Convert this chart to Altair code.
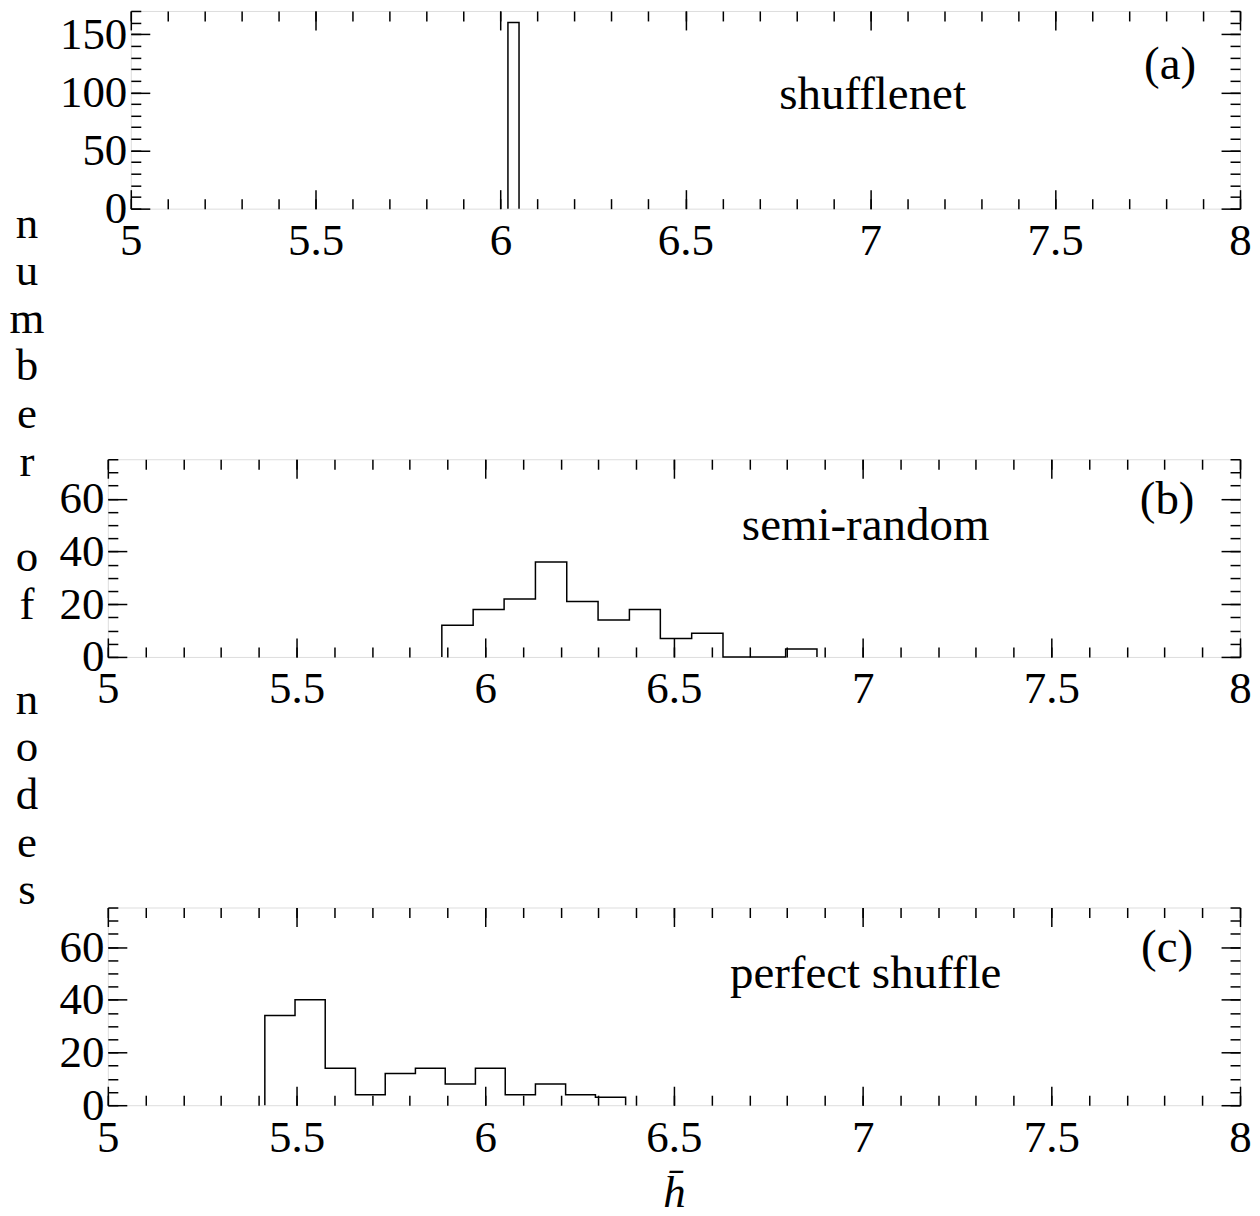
import altair as alt
import pandas as pd

# ---------------- data ----------------
# (a) shufflenet: a single bin
a_edges = [6.02, 6.05]
a_counts = [160]

# (b) semi-random
b_edges = [5.885, 5.968, 6.050, 6.133, 6.216, 6.299, 6.382, 6.464,
           6.547, 6.630, 6.713, 6.796, 6.879]
b_counts = [12, 18, 22, 36, 21, 14, 18, 7, 9, 0, 0, 3]

# (c) perfect shuffle
c_edges = [5.416, 5.496, 5.576, 5.656, 5.735, 5.815, 5.894, 5.974,
           6.053, 6.133, 6.213, 6.292, 6.372]
c_counts = [34, 40, 14, 4, 12, 14, 8, 14, 4, 8, 4, 3]

panel_names = ["shufflenet", "semi-random", "perfect shuffle"]
panel_tags = ["(a)", "(b)", "(c)"]

x_major = [5, 5.5, 6, 6.5, 7, 7.5, 8]
x_minor = [round(5 + 0.1 * i, 1) for i in range(31)]
a_y_major = [0, 50, 100, 150]
a_y_minor = list(range(0, 171, 10))
bc_y_major = [0, 20, 40, 60]
bc_y_minor = list(range(0, 76, 5))

# y title written one letter per line: "number of nodes"
y_title_words = ["number", "of", "nodes"]
x_title = "h\u0304"

FONT = "Liberation Serif"
FS = 45
LINE = 47.7


def label_axis(values, orient, pad, fmt, title=None, title_pad=0):
    kw = dict(orient=orient, values=values, format=fmt, ticks=False,
              domain=False, grid=False, labelFont=FONT, labelFontSize=FS,
              labelColor="black", labelPadding=pad, labelFlush=False,
              labelOverlap=False, title=title)
    if title is not None:
        kw.update(titleFont=FONT, titleFontSize=FS, titleFontStyle="italic",
                  titleFontWeight="normal", titleColor="black",
                  titlePadding=title_pad)
    return alt.Axis(**kw)


def tick_axis(values, orient, offset, size):
    return alt.Axis(orient=orient, offset=offset, values=values, ticks=True,
                    tickSize=size, tickWidth=1.5, tickColor="black",
                    labels=False, domain=False, grid=False, title=None)


def panel(edges, counts, w, h, ymax, ymaj, ymin, name, tag,
          name_xy, tag_xy, xtitle=None, extra=None):
    xs = [edges[0]] + edges[:-1] + [edges[-1]]
    ys = [0] + counts + [0]
    df = pd.DataFrame({"h": xs, "n": ys, "i": list(range(len(xs)))})
    xsc = alt.Scale(domain=[5, 8], nice=False, zero=False)
    ysc = alt.Scale(domain=[0, ymax], nice=False, zero=True)
    base = alt.Chart(df)

    hist = base.mark_line(interpolate="step-after", color="black",
                          strokeWidth=1.5).encode(
        x=alt.X("h:Q", scale=xsc,
                axis=label_axis(x_major, "bottom", 10, "~g", xtitle, 10)),
        y=alt.Y("n:Q", scale=ysc, axis=label_axis(ymaj, "left", 4, "d")),
        order=alt.Order("i:Q"),
    )
    layers = [hist]
    for xv, yv, size, xo, yo in [
        (x_major, ymaj, 19, "top", "right"),
        (x_minor, ymin, 10, "top", "right"),
        (x_major, ymaj, 19, "bottom", "left"),
        (x_minor, ymin, 10, "bottom", "left"),
    ]:
        layers.append(base.mark_line(opacity=0).encode(
            x=alt.X("h:Q", scale=xsc, axis=tick_axis(xv, xo, -h, size)),
            y=alt.Y("n:Q", scale=ysc, axis=tick_axis(yv, yo, -w, size)),
            order=alt.Order("i:Q"),
        ))
    one = alt.Chart(pd.DataFrame({"t": [name], "g": [tag]}))
    layers.append(one.mark_text(font=FONT, fontSize=47, color="black",
                                align="center", baseline="alphabetic").encode(
        x=alt.value(name_xy[0]), y=alt.value(name_xy[1]), text="t:N"))
    layers.append(one.mark_text(font=FONT, fontSize=47, color="black",
                                align="center", baseline="alphabetic").encode(
        x=alt.value(tag_xy[0]), y=alt.value(tag_xy[1]), text="g:N"))
    if extra is not None:
        layers.extend(extra)
    return alt.layer(*layers).resolve_axis(
        x="independent", y="independent").properties(width=w, height=h)


# vertical y-axis title, one letter per line, blank line between words
letter_layers = []
line_no = 0
for word in y_title_words:
    letter_layers.append(
        alt.Chart(pd.DataFrame({"k": [0]})).mark_text(
            text=list(word), font=FONT, fontSize=FS, color="black",
            align="center", baseline="alphabetic", lineHeight=LINE,
        ).encode(x=alt.value(-81), y=alt.value(-222 + line_no * LINE))
    )
    line_no += len(word) + 1

pa = panel(a_edges, a_counts, 1111, 198, 170, a_y_major, a_y_minor,
           panel_names[0], panel_tags[0], (743, 98), (1041, 68))
pb = panel(b_edges, b_counts, 1134, 198, 75, bc_y_major, bc_y_minor,
           panel_names[1], panel_tags[1], (759, 81), (1061, 55),
           extra=letter_layers)
pc = panel(c_edges, c_counts, 1134, 198, 75, bc_y_major, bc_y_minor,
           panel_names[2], panel_tags[2], (759, 81), (1061, 55),
           xtitle=x_title)

spacer = alt.Chart(pd.DataFrame({"k": [0]})).mark_point(opacity=0).properties(
    width=1, height=198, view=alt.ViewBackground(stroke="transparent"))

row_a = alt.hconcat(spacer, pa, spacing=22, bounds="flush")
row_b = alt.hconcat(pb, bounds="flush")
row_c = alt.hconcat(pc, bounds="flush")

chart = alt.vconcat(row_a, row_b, row_c, spacing=449, bounds="flush").properties(
    padding={"left": 0, "top": 0, "right": 0, "bottom": 0}
).configure_view(stroke="black", strokeWidth=1.5).configure(background="white")

chart.save("out.html", embed_options={"renderer": "svg", "actions": False})
